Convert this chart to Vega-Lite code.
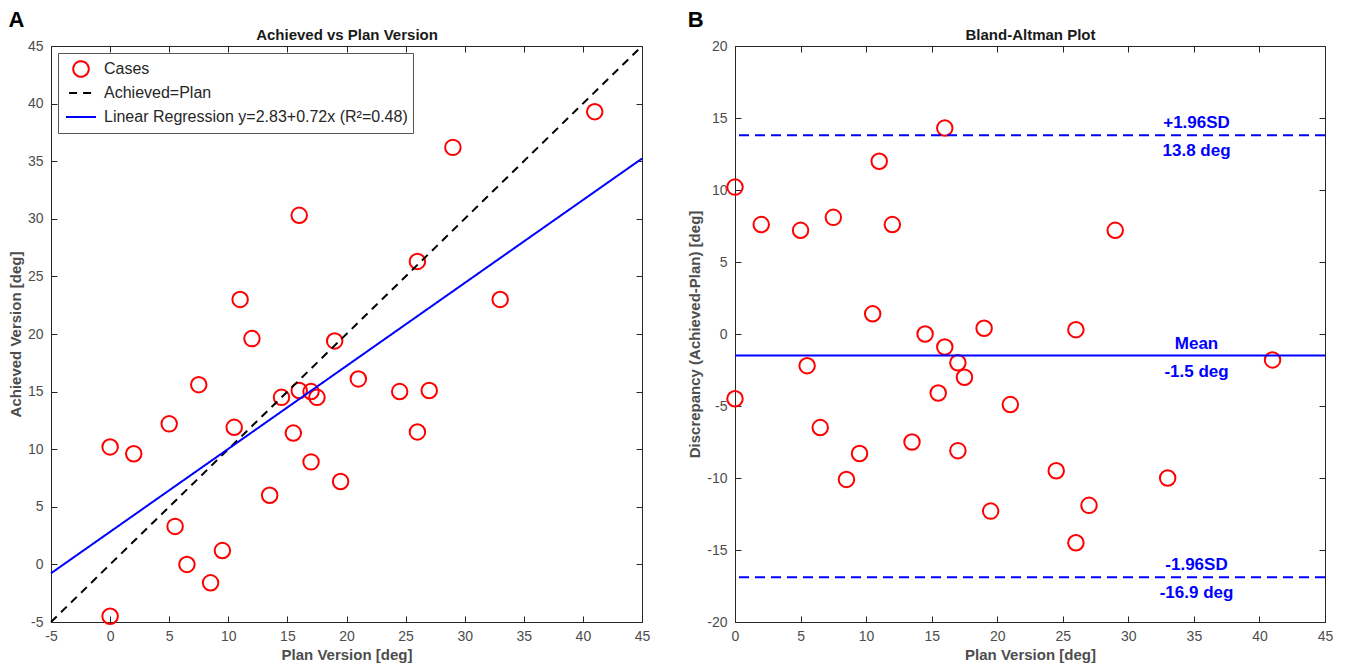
{
  "$schema": "https://vega.github.io/schema/vega-lite/v6.json",
  "background": "white",
  "padding": {"left": 8, "top": 8, "right": 5, "bottom": 5},
  "spacing": 37,
  "config": {
    "locale": {"number": {"decimal": ".", "thousands": ",", "grouping": [3], "currency": ["$", ""], "minus": "-"}},
    "view": {"stroke": null},
    "font": "Liberation Sans",
    "axis": {
      "grid": false,
      "domainColor": "#262626",
      "domainWidth": 1,
      "tickColor": "#262626",
      "tickWidth": 1,
      "tickSize": -6,
      "labelPadding": 14,
      "labelColor": "#4d4d4d",
      "labelFont": "Liberation Sans",
      "labelFontSize": 14,
      "labelFlush": false,
      "labelOverlap": false,
      "titleColor": "#4d4d4d",
      "titleFont": "Liberation Sans",
      "titleFontSize": 15,
      "titleFontWeight": "bold",
      "titlePadding": 4
    },
    "legend": {
      "title": null, "orient": "top-left", "offset": 7, "padding": 5,
      "strokeColor": "#555555", "fillColor": "#ffffff",
      "symbolStrokeWidth": 2, "symbolOffset": 2, "clipHeight": 22,
      "labelFont": "Liberation Sans", "labelFontSize": 16, "labelColor": "#262626", "labelOffset": 7, "labelLimit": 500, "rowPadding": 2
    },
    "title": {"font": "Liberation Sans", "fontSize": 22, "fontWeight": "bold", "color": "#000000", "anchor": "start", "frame": "bounds", "offset": -4}
  },
  "datasets": {
    "cases": [
      {"plan": 41, "achieved": 39.3, "diff": -1.8},
      {"plan": 29, "achieved": 36.2, "diff": 7.2},
      {"plan": 16, "achieved": 30.3, "diff": 14.3},
      {"plan": 26, "achieved": 26.3, "diff": 0.3},
      {"plan": 11, "achieved": 23.0, "diff": 12.0},
      {"plan": 33, "achieved": 23.0, "diff": -10.0},
      {"plan": 12, "achieved": 19.6, "diff": 7.6},
      {"plan": 19, "achieved": 19.4, "diff": 0.4},
      {"plan": 21, "achieved": 16.1, "diff": -4.9},
      {"plan": 7.5, "achieved": 15.6, "diff": 8.1},
      {"plan": 27, "achieved": 15.1, "diff": -11.9},
      {"plan": 24.5, "achieved": 15.0, "diff": -9.5},
      {"plan": 16, "achieved": 15.1, "diff": -0.9},
      {"plan": 17, "achieved": 15.0, "diff": -2.0},
      {"plan": 14.5, "achieved": 14.5, "diff": 0.0},
      {"plan": 17.5, "achieved": 14.5, "diff": -3.0},
      {"plan": 5, "achieved": 12.2, "diff": 7.2},
      {"plan": 10.5, "achieved": 11.9, "diff": 1.4},
      {"plan": 15.5, "achieved": 11.4, "diff": -4.1},
      {"plan": 26, "achieved": 11.5, "diff": -14.5},
      {"plan": 0, "achieved": 10.2, "diff": 10.2},
      {"plan": 2, "achieved": 9.6, "diff": 7.6},
      {"plan": 17, "achieved": 8.9, "diff": -8.1},
      {"plan": 19.5, "achieved": 7.2, "diff": -12.3},
      {"plan": 13.5, "achieved": 6.0, "diff": -7.5},
      {"plan": 5.5, "achieved": 3.3, "diff": -2.2},
      {"plan": 9.5, "achieved": 1.2, "diff": -8.3},
      {"plan": 6.5, "achieved": 0.0, "diff": -6.5},
      {"plan": 8.5, "achieved": -1.6, "diff": -10.1},
      {"plan": 0, "achieved": -4.5, "diff": -4.5}
    ],
    "identity": [
      {"x": -5, "y": -5},
      {"x": 45, "y": 45}
    ],
    "regression": [
      {"x": -5, "y": -0.77},
      {"x": 45, "y": 35.23}
    ],
    "limits": [
      {"kind": "sd", "value": 13.8, "label": "+1.96SD", "text": "13.8 deg"},
      {"kind": "mean", "value": -1.5, "label": "Mean", "text": "-1.5 deg"},
      {"kind": "sd", "value": -16.9, "label": "-1.96SD", "text": "-16.9 deg"}
    ]
  },
  "hconcat": [
    {
      "width": 591,
      "height": 576,
      "title": {"text": "A"},
      "layer": [
        {
          "data": {"name": "cases"},
          "mark": {"type": "point", "filled": false, "strokeWidth": 2, "opacity": 1},
          "encoding": {
            "x": {"field": "plan", "type": "quantitative", "scale": {"domain": [-5, 45], "nice": false, "zero": false},
                  "axis": {"orient": "bottom", "values": [-5, 0, 5, 10, 15, 20, 25, 30, 35, 40, 45], "title": "Plan Version [deg]", "labelPadding": 13}},
            "y": {"field": "achieved", "type": "quantitative", "scale": {"domain": [-5, 45], "nice": false, "zero": false},
                  "axis": {"orient": "left", "values": [-5, 0, 5, 10, 15, 20, 25, 30, 35, 40, 45], "title": "Achieved Version [deg]"}},
            "color": {
              "datum": "Cases", "type": "nominal",
              "scale": {"domain": ["Cases", "Achieved=Plan", "Linear Regression y=2.83+0.72x (R²=0.48)"], "range": ["#ff0000", "#000000", "#0000ff"]},
              "legend": {"title": null}
            },
            "shape": {
              "datum": "Cases", "type": "nominal",
              "scale": {"domain": ["Cases", "Achieved=Plan", "Linear Regression y=2.83+0.72x (R²=0.48)"], "range": ["circle", "stroke", "stroke"]},
              "legend": {"title": null}
            },
            "size": {
              "datum": "Cases", "type": "nominal",
              "scale": {"domain": ["Cases", "Achieved=Plan", "Linear Regression y=2.83+0.72x (R²=0.48)"], "range": [240, 900, 900]},
              "legend": {"title": null}
            }
          }
        },
        {
          "data": {"name": "identity"},
          "mark": {"type": "line", "strokeWidth": 2},
          "encoding": {
            "x": {"field": "x", "type": "quantitative", "scale": {"domain": [-5, 45], "nice": false, "zero": false},
                  "axis": {"orient": "top", "values": [-5, 0, 5, 10, 15, 20, 25, 30, 35, 40, 45], "labels": false, "title": "Achieved vs Plan Version", "titleColor": "#1a1a1a", "titlePadding": 3}},
            "y": {"field": "y", "type": "quantitative", "scale": {"domain": [-5, 45], "nice": false, "zero": false},
                  "axis": {"orient": "right", "values": [-5, 0, 5, 10, 15, 20, 25, 30, 35, 40, 45], "labels": false, "title": null}},
            "color": {"datum": "Achieved=Plan", "type": "nominal", "legend": {"title": null}},
            "strokeDash": {
              "datum": "Achieved=Plan", "type": "nominal",
              "scale": {"domain": ["Cases", "Achieved=Plan", "Linear Regression y=2.83+0.72x (R²=0.48)"], "range": [[1, 0], [8, 6], [1, 0]]},
              "legend": {"title": null}
            }
          }
        },
        {
          "data": {"name": "regression"},
          "mark": {"type": "line", "strokeWidth": 2},
          "encoding": {
            "x": {"field": "x", "type": "quantitative", "scale": {"domain": [-5, 45], "nice": false, "zero": false}, "axis": null},
            "y": {"field": "y", "type": "quantitative", "scale": {"domain": [-5, 45], "nice": false, "zero": false}, "axis": null},
            "color": {"datum": "Linear Regression y=2.83+0.72x (R²=0.48)", "type": "nominal", "legend": {"title": null}},
            "strokeDash": {"datum": "Linear Regression y=2.83+0.72x (R²=0.48)", "type": "nominal", "legend": {"title": null}}
          }
        }
      ]
    },
    {
      "width": 590,
      "height": 576,
      "title": {"text": "B"},
      "layer": [
        {
          "data": {"name": "cases"},
          "mark": {"type": "point", "filled": false, "strokeWidth": 2, "size": 240, "opacity": 1, "color": "#ff0000"},
          "encoding": {
            "x": {"field": "plan", "type": "quantitative", "scale": {"domain": [0, 45], "nice": false, "zero": false},
                  "axis": {"orient": "bottom", "values": [0, 5, 10, 15, 20, 25, 30, 35, 40, 45], "title": "Plan Version [deg]", "labelPadding": 13}},
            "y": {"field": "diff", "type": "quantitative", "scale": {"domain": [-20, 20], "nice": false, "zero": false},
                  "axis": {"orient": "left", "values": [-20, -15, -10, -5, 0, 5, 10, 15, 20], "title": "Discrepancy (Achieved-Plan) [deg]"}}
          }
        },
        {
          "data": {"name": "limits"},
          "transform": [{"filter": "datum.kind === 'mean'"}],
          "mark": {"type": "rule", "strokeWidth": 2, "color": "#0000ff"},
          "encoding": {
            "y": {"field": "value", "type": "quantitative", "scale": {"domain": [-20, 20], "nice": false, "zero": false}, "axis": null}
          }
        },
        {
          "data": {"name": "limits"},
          "transform": [{"filter": "datum.kind === 'sd'"}],
          "mark": {"type": "rule", "strokeWidth": 2, "color": "#0000ff", "strokeDash": [10, 6]},
          "encoding": {
            "y": {"field": "value", "type": "quantitative", "scale": {"domain": [-20, 20], "nice": false, "zero": false}, "axis": null}
          }
        },
        {
          "data": {"name": "limits"},
          "mark": {"type": "text", "color": "#0000ff", "font": "Liberation Sans", "fontSize": 17, "fontWeight": "bold", "align": "center", "baseline": "alphabetic", "dy": -7},
          "encoding": {
            "x": {"datum": 35.2, "type": "quantitative", "scale": {"domain": [0, 45], "nice": false, "zero": false},
                  "axis": {"orient": "top", "values": [0, 5, 10, 15, 20, 25, 30, 35, 40, 45], "labels": false, "title": "Bland-Altman Plot", "titleColor": "#1a1a1a", "titlePadding": 3}},
            "y": {"field": "value", "type": "quantitative", "scale": {"domain": [-20, 20], "nice": false, "zero": false},
                  "axis": {"orient": "right", "values": [-20, -15, -10, -5, 0, 5, 10, 15, 20], "labels": false, "title": null}},
            "text": {"field": "label"}
          }
        },
        {
          "data": {"name": "limits"},
          "mark": {"type": "text", "color": "#0000ff", "font": "Liberation Sans", "fontSize": 17, "fontWeight": "bold", "align": "center", "baseline": "alphabetic", "dy": 21},
          "encoding": {
            "x": {"datum": 35.2, "type": "quantitative", "scale": {"domain": [0, 45], "nice": false, "zero": false}, "axis": null},
            "y": {"field": "value", "type": "quantitative", "scale": {"domain": [-20, 20], "nice": false, "zero": false}, "axis": null},
            "text": {"field": "text"}
          }
        }
      ]
    }
  ]
}
